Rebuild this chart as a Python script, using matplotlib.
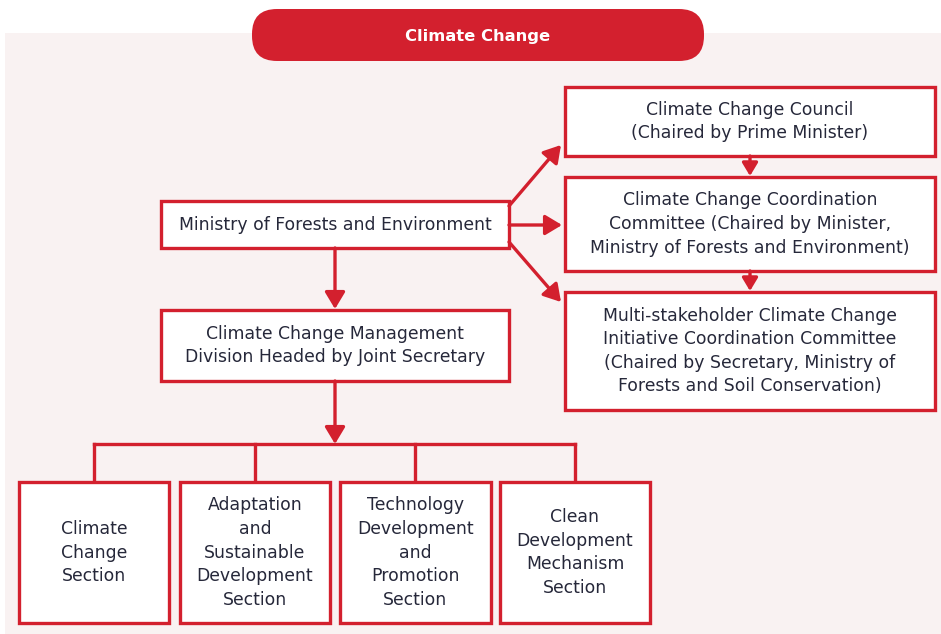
import matplotlib.pyplot as plt
from matplotlib.patches import Rectangle, FancyBboxPatch

# labels of the chart
title = 'Climate Change'
ministry = 'Ministry of Forests and Environment'
division = 'Climate Change Management\nDivision Headed by Joint Secretary'
committees = [
    'Climate Change Council\n(Chaired by Prime Minister)',
    'Climate Change Coordination\nCommittee (Chaired by Minister,\nMinistry of Forests and Environment)',
    'Multi-stakeholder Climate Change\nInitiative Coordination Committee\n(Chaired by Secretary, Ministry of\nForests and Soil Conservation)',
]
sections = [
    'Climate\nChange\nSection',
    'Adaptation\nand\nSustainable\nDevelopment\nSection',
    'Technology\nDevelopment\nand\nPromotion\nSection',
    'Clean\nDevelopment\nMechanism\nSection',
]

# layout (pixel coords, y down)
ministry_box = (161, 201, 509, 248)
division_box = (161, 310, 509, 381)
committee_boxes = [(565, 87, 935, 156), (565, 177, 935, 271), (565, 292, 935, 410)]
section_x = [(19, 169), (180, 330), (340, 491), (500, 650)]
section_y = (482, 623)
bus_y = 444

red = '#D3202E'
txt = '#26283A'
bg = '#F9F2F2'
fs = 12.4

fig = plt.figure(figsize=(9.41, 6.34), dpi=100)
ax = fig.add_axes([0, 0, 1, 1])
ax.set_xlim(0, 941)
ax.set_ylim(634, 0)
ax.axis('off')

ax.add_patch(Rectangle((5, 33), 941, 610, facecolor=bg, edgecolor='none', zorder=0))

# title pill
ax.add_patch(FancyBboxPatch((252, 9), 452, 52, boxstyle='round,pad=0,rounding_size=25',
                            facecolor=red, edgecolor='none', zorder=2))
ax.text(478, 36, title, color='white', fontsize=11.8, fontweight='bold', ha='center', va='center', zorder=3)


def box(b, label, ls=1.4):
    x0, y0, x1, y1 = b
    ax.add_patch(Rectangle((x0, y0), x1 - x0, y1 - y0, facecolor='white', edgecolor=red, lw=2.4, zorder=2))
    ax.text((x0 + x1) / 2, (y0 + y1) / 2, label, color=txt, fontsize=fs, ha='center', va='center',
            linespacing=ls, zorder=3)


def arrow(p0, p1, ms=17):
    ax.annotate('', xy=p1, xytext=p0, zorder=4,
                arrowprops=dict(arrowstyle='-|>,head_length=0.6,head_width=0.36', color=red,
                                lw=2.4, shrinkA=0, shrinkB=0, mutation_scale=ms))


box(ministry_box, ministry)
box(division_box, division)
for b, lab in zip(committee_boxes, committees):
    box(b, lab)
for (x0, x1), lab in zip(section_x, sections):
    box((x0, section_y[0], x1, section_y[1]), lab)

# arrows from ministry
arrow((509, 206), (561, 145))
arrow((509, 225), (562, 225))
arrow((509, 242), (561, 302))
arrow((335, 248), (335, 309))
arrow((750, 156), (750, 176), ms=13)
arrow((750, 271), (750, 291), ms=13)
arrow((335, 381), (335, bus_y))

# bus to sections
cx = [(a + b) / 2 for a, b in section_x]
ax.plot([cx[0], cx[-1]], [bus_y, bus_y], color=red, lw=2.4, zorder=1, solid_capstyle='projecting')
for x in cx:
    ax.plot([x, x], [bus_y, section_y[0]], color=red, lw=2.4, zorder=1, solid_capstyle='projecting')

fig.savefig('out.png', dpi=100, facecolor='white')
